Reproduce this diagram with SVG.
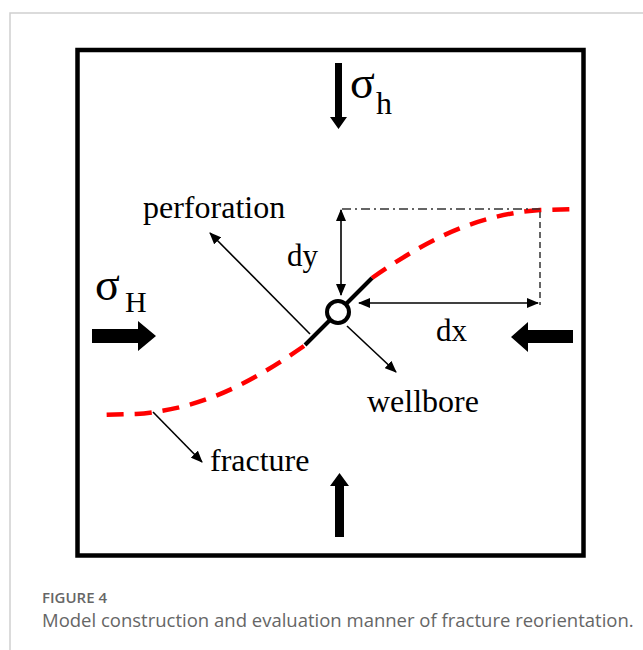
<svg xmlns="http://www.w3.org/2000/svg" width="643" height="650" viewBox="0 0 643 650">
<defs>
<marker id="ah" markerUnits="userSpaceOnUse" markerWidth="12" markerHeight="10" refX="11" refY="5" orient="auto-start-reverse" viewBox="0 0 12 10">
<path d="M0,0 L12,5 L0,10 Z" fill="#000"/>
</marker>
</defs>
<style>
.lbl{font-family:"Liberation Serif","Times New Roman",serif;fill:#000}
.thin{stroke:#000;stroke-width:1.6;fill:none}
.frac{stroke:#ff0000;stroke-width:4.5;fill:none;stroke-dasharray:17 11}
.big{fill:#000}
.cap{font-family:"Open Sans","Noto Sans",sans-serif;fill:#666}
</style>
<rect width="643" height="650" fill="#fff"/>
<g id="card">
<path d="M10,650 L10,13 L643,13" fill="none" stroke="#d0d0d0" stroke-width="1.5"/>
</g>
<g id="model-box">
<rect x="77.5" y="50" width="506" height="505.5" fill="none" stroke="#000" stroke-width="4.5"/>
</g>
<g id="stress-h">
<polygon class="big" points="335,63 342,63 342,117 347,117 338.5,129 330,117 335,117"/>
<polygon class="big" points="339.5,473 349,486 344,486 344,537 335,537 335,486 330,486"/>
<text class="lbl" x="350" y="98" font-size="46">σ</text>
<text class="lbl" x="376" y="114" font-size="32">h</text>
</g>
<g id="stress-H">
<polygon class="big" points="92,329 138,329 138,321 156,336 138,351 138,343 92,343"/>
<polygon class="big" points="573,330 528,330 528,322 511,337 528,352 528,343 573,343"/>
<text class="lbl" x="95" y="300" font-size="46">σ</text>
<text class="lbl" x="125" y="312" font-size="30">H</text>
</g>
<g id="fracture">
<path class="frac" d="M372,278 C420,245 470,215 540,210 L574,209"/>
<path class="frac" d="M304,346 C256,379 206,409 136,414 L102,415"/>
<text class="lbl" x="210" y="471" font-size="32">fracture</text>
</g>
<g id="perforation">
<line x1="305" y1="345" x2="372" y2="278" stroke="#000" stroke-width="4"/>
<text class="lbl" x="143" y="218" font-size="32">perforation</text>
</g>
<g id="wellbore">
<circle cx="338" cy="312" r="11" fill="#fff" stroke="#000" stroke-width="4"/>
<text class="lbl" x="367" y="412" font-size="32">wellbore</text>
</g>
<g id="measures">
<line x1="342" y1="209" x2="540" y2="209" stroke="#333" stroke-width="1.5" stroke-dasharray="9 4 2 4"/>
<line x1="540" y1="212" x2="540" y2="305" stroke="#333" stroke-width="1.5" stroke-dasharray="6 4"/>
<text class="lbl" x="287" y="266" font-size="31">dy</text>
<text class="lbl" x="436" y="341" font-size="31">dx</text>
</g>
<g id="connectors">
<line class="thin" x1="341" y1="210" x2="341" y2="295" marker-start="url(#ah)" marker-end="url(#ah)"/>
<line class="thin" x1="359" y1="303" x2="538" y2="303" marker-start="url(#ah)" marker-end="url(#ah)"/>
<line class="thin" x1="310" y1="334" x2="210" y2="233" marker-end="url(#ah)"/>
<line class="thin" x1="347" y1="326" x2="396" y2="372" marker-end="url(#ah)"/>
<line class="thin" x1="153" y1="412" x2="202" y2="462" marker-end="url(#ah)"/>
</g>
<g id="caption">
<text class="cap" x="42" y="603" font-size="15" font-weight="600">FIGURE 4</text>
<text class="cap" x="42" y="627" font-size="18.5">Model construction and evaluation manner of fracture reorientation.</text>
</g>
</svg>
